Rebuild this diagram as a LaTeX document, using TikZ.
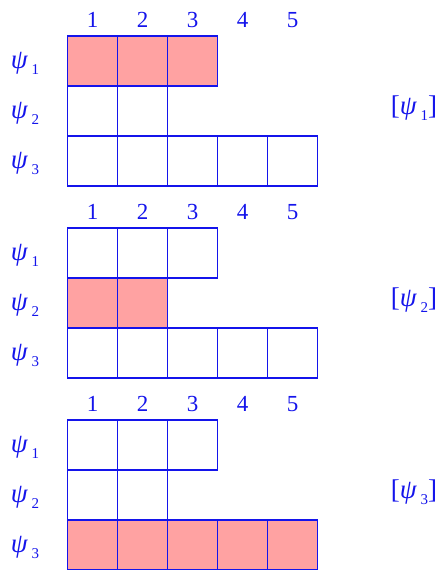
\documentclass[tikz,border=0pt]{standalone}
\usepackage{fontspec}
\setmainfont{Liberation Serif}
\definecolor{ink}{RGB}{20,20,235}
\definecolor{hit}{RGB}{255,162,162}
\newcommand{\psiname}[1]{{\fontsize{27}{29}\selectfont\itshape ψ}\kern4pt\raisebox{-6pt}{\fontsize{15}{15}\selectfont #1}}

\begin{document}
\begin{tikzpicture}[x=1pt, y=1pt, every node/.style={text=ink, font=\fontsize{23}{25}\selectfont}, cell/.style={draw=ink, line width=1.3pt, minimum width=50pt, minimum height=50pt, inner sep=0pt}]
	\useasboundingbox (0,0) rectangle (440,-570);
	\foreach \p [evaluate=\p as \dy using 192*\p-192] in {1,2,3} {
		\foreach \k in {1,...,5}
			\node (n-\p-\k) at (42.5+50*\k, -20-\dy) {\k};
		\foreach \r/\n in {1/3,2/2,3/5} {
			\ifnum\r=\p \def\fc{hit}\else\def\fc{white}\fi
			\foreach \k in {1,...,\n}
				\node[cell, fill=\fc] (c-\p-\r-\k) at (42.5+50*\k, -11-\dy-50*\r) {};
			\node (psi-\p-\r) at (25, -13-\dy-50*\r) {\psiname{\r}};
		}
		\node (tag-\p) at (414, -108-\dy) {\fontsize{27}{29}\selectfont[\psiname{\p}]};
	}
\end{tikzpicture}
\end{document}
